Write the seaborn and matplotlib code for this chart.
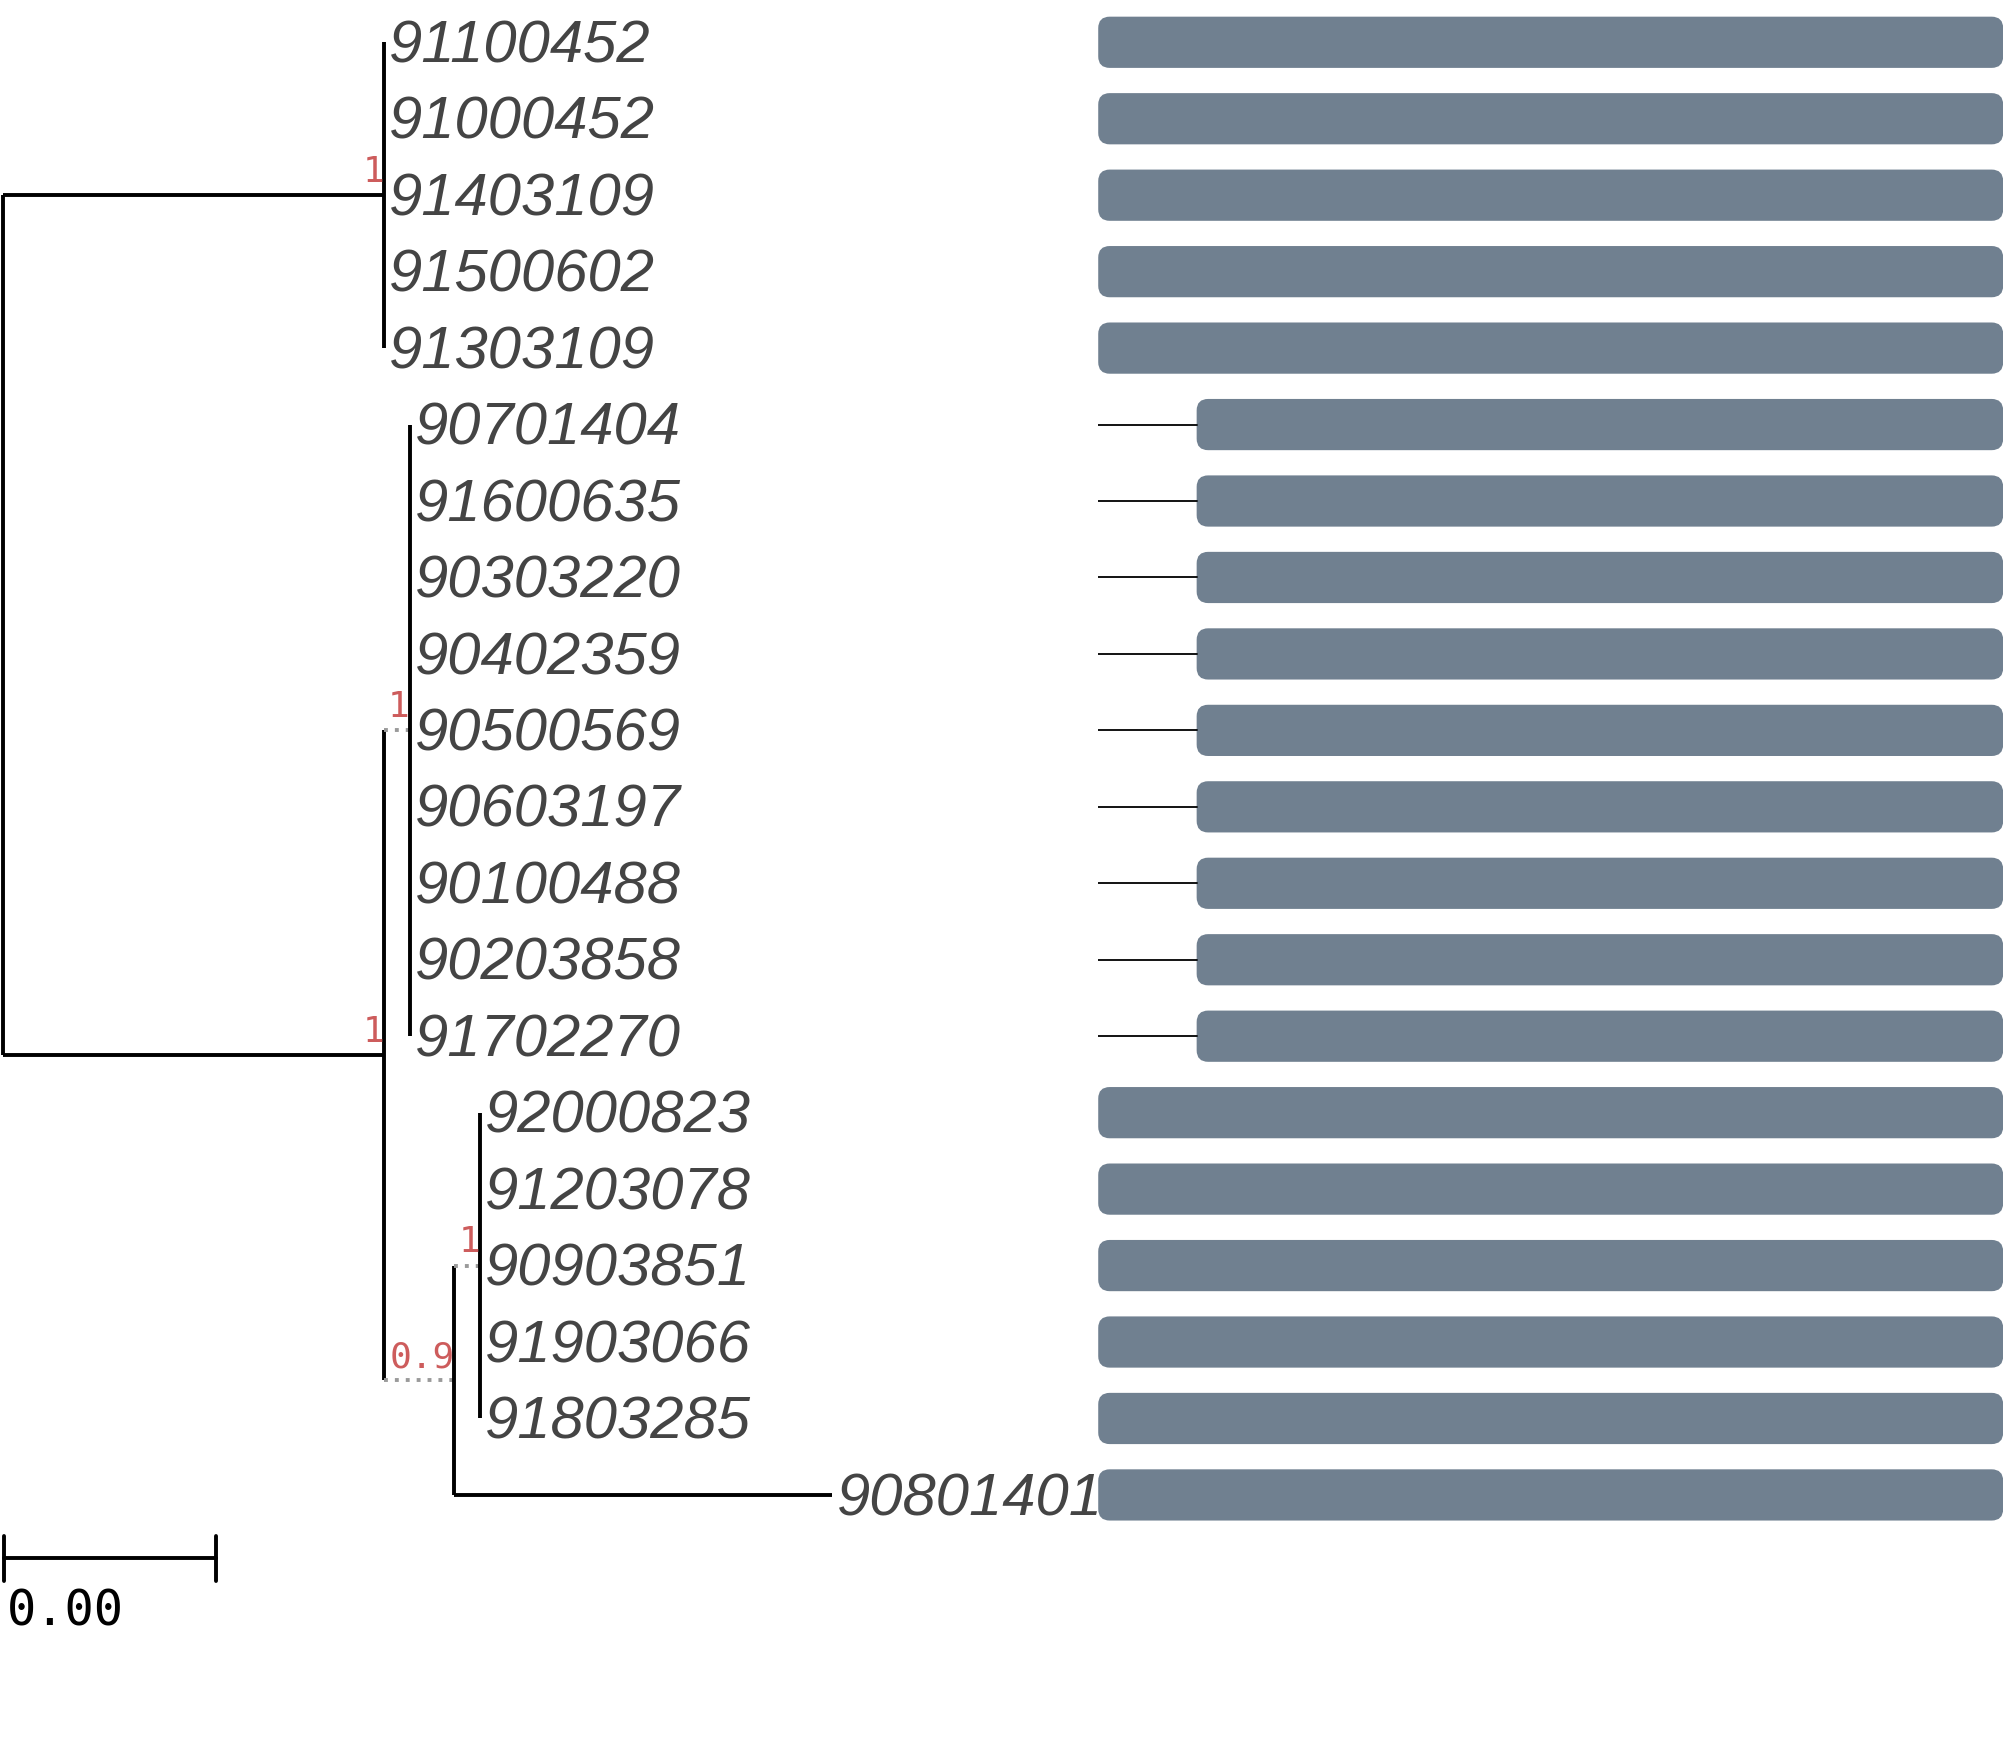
import matplotlib
matplotlib.use("Agg")
import matplotlib.pyplot as plt
from matplotlib.patches import FancyBboxPatch
import pandas as pd
import seaborn as sns

# leaf order top -> bottom
leaves = ["91100452", "91000452", "91403109", "91500602", "91303109",
          "90701404", "91600635", "90303220", "90402359", "90500569",
          "90603197", "90100488", "90203858", "91702270",
          "92000823", "91203078", "90903851", "91903066", "91803285",
          "90801401"]
leaf_parent = ["A"] * 5 + ["B1"] * 9 + ["B21"] * 5 + ["B2"]
leaf_brlen = [0.0] * 19 + [0.00295]

# internal nodes
nodes = ["root", "A", "B", "B1", "B2", "B21"]
node_parent = [None, "root", "root", "B", "B", "B2"]
node_brlen = [0.0, 0.00298, 0.00298, 0.00020, 0.00055, 0.00020]
node_support = ["", "1", "1", "1", "0.9", "1"]

# alignment coverage per leaf
aln_len = 1140
aln_start = [0] * 5 + [124] * 9 + [0] * 6
aln_end = [1140] * 20

scale_len = 0.00166

sns.set_theme(style="white")
plt.rcParams['font.family'] = ['Liberation Sans', 'DejaVu Sans']

fig = plt.figure(figsize=(20.07, 17.48), dpi=100)

# tree axes covers whole figure
ax = fig.add_axes([0, 0, 1, 1])
ax.set_xlim(-0.00002, 0.01566)
ax.set_ylim(22.31, -0.553)
ax.axis("off")

# node x positions
node_x = {}
for n, p, bl in zip(nodes, node_parent, node_brlen):
    node_x[n] = 0.0 if p is None else node_x[p] + bl

# children of each node: (name, x, y, is_leaf, brlen)
children = {n: [] for n in nodes}
for i, (lf, p, bl) in enumerate(zip(leaves, leaf_parent, leaf_brlen)):
    children[p].append((lf, node_x[p] + bl, float(i), True, bl))

node_y = {}
def get_y(n):
    if n in node_y:
        return node_y[n]
    ys = [c[2] for c in children[n]]
    for m, p in zip(nodes, node_parent):
        if p == n:
            ys.append(get_y(m))
    node_y[n] = (min(ys) + max(ys)) / 2
    return node_y[n]

for n in nodes:
    get_y(n)
for n, p, bl in zip(nodes, node_parent, node_brlen):
    if p is not None:
        children[p].append((n, node_x[n], node_y[n], False, bl))

lw = 2.8
for n in nodes:
    ch = children[n]
    ys = [c[2] for c in ch]
    ax.plot([node_x[n], node_x[n]], [min(ys), max(ys)], color="black",
            lw=lw, solid_capstyle="butt")
    for name, cx, cy, is_leaf, bl in ch:
        if bl <= 0:
            continue
        if not is_leaf and bl < 0.001:
            ax.plot([node_x[n], cx], [cy, cy], color="#9a9a9a", lw=lw,
                    linestyle=(0, (1, 1.8)))
        else:
            ax.plot([node_x[n], cx], [cy, cy], color="black", lw=lw,
                    solid_capstyle="butt")

# support values
for n, s in zip(nodes, node_support):
    if s:
        ax.text(node_x[n], node_y[n] - 0.08, s, ha="right", va="bottom",
                color="#CD5C5C", fontsize=26, family=["DejaVu Sans Mono"])

# leaf labels
for i, (lf, p, bl) in enumerate(zip(leaves, leaf_parent, leaf_brlen)):
    ax.text(node_x[p] + bl + 0.00004, i + 0.06, lf, ha="left", va="center",
            fontsize=43, style="italic", color="#444444")

# scale bar
sy = 19.83
x0 = 0.00001
ax.plot([x0, x0 + scale_len], [sy, sy], color="black", lw=2.8)
for xx in (x0, x0 + scale_len):
    ax.plot([xx, xx], [sy - 0.29, sy + 0.29], color="black", lw=2.8)
ax.text(0.00003, 20.52, f"{scale_len:.2f}", ha="left", va="center",
        fontsize=35, family=["DejaVu Sans Mono"], color="black")

# alignment bars
axb = fig.add_axes([858 / 1568, 0, 707 / 1568, 1])
df = pd.DataFrame({"leaf": leaves, "end": aln_end})
sns.barplot(data=df, x="end", y="leaf", orient="h", color="#708090",
            width=0.67, ax=axb)
axb.set_xlim(0, aln_len)
axb.set_ylim(22.31, -0.553)
axb.axis("off")

r_x = aln_len / 707 * 9
r_y = 9 / 59.7
for i, patch in enumerate(list(axb.patches)):
    y0 = patch.get_y()
    h = patch.get_height()
    patch.remove()
    st, en = aln_start[i], aln_end[i]
    box = FancyBboxPatch((st, y0), en - st, h,
                         boxstyle=f"round,pad=0,rounding_size={r_x}",
                         mutation_aspect=r_y / r_x,
                         facecolor="#708090", edgecolor="none")
    axb.add_patch(box)
    if st > 0:
        axb.plot([0, st], [i, i], color="black", lw=1.3)

fig.savefig("out.png", dpi=100)
